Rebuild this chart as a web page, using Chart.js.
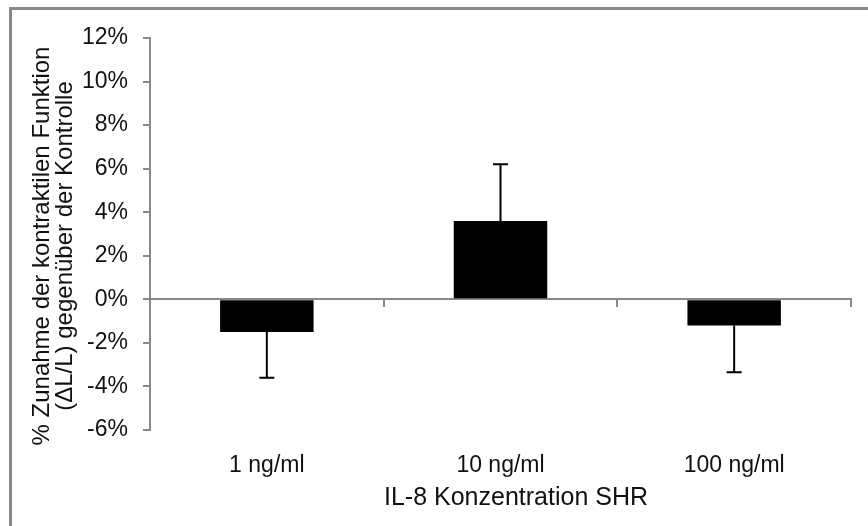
<!DOCTYPE html>
<html>
<head>
<meta charset="utf-8">
<script src="https://cdn.jsdelivr.net/npm/chart.js@4"></script>
<style>
    html, body { margin: 0; padding: 0; background: #fff; overflow: hidden; }
    #frame {
        position: absolute; left: 9px; top: 7px;
        width: 900px; height: 560px;
        border: 3px solid #888;
    }
    #chartIL8 { position: absolute; left: 0; top: 0; }
</style>
</head>
<body>
<div id="frame"></div>
<canvas id="chartIL8" width="868" height="526"></canvas>
<script>
// Konzentrationen und Mittelwerte (%) mit Fehlerbalken
var konzentrationen = ['1 ng/ml', '10 ng/ml', '100 ng/ml'];
var zunahme = [-1.5, 3.6, -1.2];
var fehler = [2.1, 2.6, 2.15];
var yTicks = [-6, -4, -2, 0, 2, 4, 6, 8, 10, 12];

var titelY = ['% Zunahme der kontraktilen Funktion', '(\u0394L/L) gegenüber der Kontrolle'];
var titelX = 'IL-8 Konzentration SHR';

var grau = '#898989';
var schrift = '"Liberation Sans", Arial, sans-serif';

// Fehlerbalken nur in Richtung weg von der Nulllinie
var fehlerBalken = {
    id: 'fehlerBalken',
    afterDatasetsDraw: function(chart) {
        var ctx = chart.ctx;
        var yScale = chart.scales.y;
        var meta = chart.getDatasetMeta(0);
        ctx.save();
        ctx.strokeStyle = '#000';
        ctx.lineWidth = 2;
        meta.data.forEach(function(bar, i) {
            var v = zunahme[i];
            var ende = v + (v < 0 ? -fehler[i] : fehler[i]);
            var y0 = yScale.getPixelForValue(v);
            var y1 = yScale.getPixelForValue(ende);
            ctx.beginPath();
            ctx.moveTo(bar.x, y0);
            ctx.lineTo(bar.x, y1);
            ctx.moveTo(bar.x - 7.5, y1);
            ctx.lineTo(bar.x + 7.5, y1);
            ctx.stroke();
        });
        ctx.restore();
    }
};

// Achsentitel
var achsenTitel = {
    id: 'achsenTitel',
    afterDraw: function(chart) {
        var ctx = chart.ctx;
        ctx.save();
        ctx.fillStyle = '#111';
        ctx.textAlign = 'center';
        ctx.textBaseline = 'middle';
        ctx.font = '24px ' + schrift;
        [42, 65].forEach(function(x, i) {
            ctx.save();
            ctx.translate(x, 246);
            ctx.rotate(-Math.PI / 2);
            ctx.fillText(titelY[i], 0, 0);
            ctx.restore();
        });
        ctx.font = '25px ' + schrift;
        ctx.fillText(titelX, 516, 498);
        ctx.restore();
    }
};

var ctx = document.getElementById('chartIL8').getContext('2d');
var chartIL8 = new Chart(ctx, {
    type: 'bar',
    data: {
        labels: konzentrationen,
        datasets: [{
            data: zunahme,
            backgroundColor: '#000',
            borderWidth: 0,
            categoryPercentage: 0.8,
            barPercentage: 0.5
        }]
    },
    options: {
        responsive: false,
        animation: false,
        layout: { padding: { top: 38, right: 17, left: 0, bottom: 0 } },
        plugins: {
            legend: { display: false },
            tooltip: { enabled: false }
        },
        scales: {
            x: {
                offset: true,
                grid: { display: false, drawTicks: false },
                border: { display: false },
                ticks: {
                    color: '#111',
                    padding: 22,
                    font: { size: 23, family: schrift }
                },
                afterFit: function(scale) { scale.height = 96; }
            },
            xNull: {
                type: 'category',
                position: { y: 0 },
                offset: true,
                z: 1,
                grid: {
                    offset: true,
                    drawOnChartArea: false,
                    tickLength: 7,
                    color: grau,
                    lineWidth: 2
                },
                border: { color: grau, width: 2 },
                ticks: { display: false }
            },
            y: {
                min: -6,
                max: 12,
                afterBuildTicks: function(scale) {
                    scale.ticks = yTicks.map(function(v) { return { value: v }; });
                },
                grid: {
                    drawOnChartArea: false,
                    tickLength: 7,
                    color: grau,
                    lineWidth: 2
                },
                border: { color: grau, width: 2 },
                ticks: {
                    color: '#111',
                    padding: 15,
                    font: { size: 23, family: schrift },
                    callback: function(v) { return v + '%'; }
                },
                afterFit: function(scale) { scale.width = 150; }
            }
        }
    },
    plugins: [fehlerBalken, achsenTitel]
});
</script>
</body>
</html>
